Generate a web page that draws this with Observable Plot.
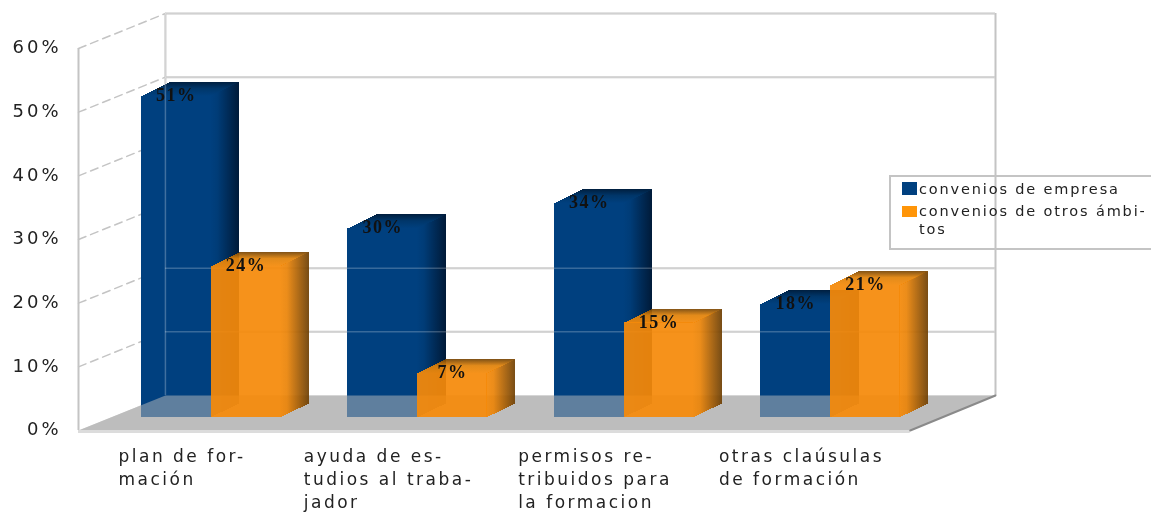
<!DOCTYPE html>
<html lang="es">
<head>
<meta charset="utf-8">
<script src="https://cdn.jsdelivr.net/npm/d3@7"></script>
<script src="https://cdn.jsdelivr.net/npm/@observablehq/plot@0.6"></script>
<style>
html,body{margin:0;padding:0;background:#fff;}
#wrap{position:relative;width:1151px;height:512px;overflow:hidden;filter:blur(.55px);}
#wrap svg{display:block;}
g[aria-label="y-axis tick label"] text{letter-spacing:3px;}
#legend{position:absolute;left:889px;top:175px;width:300px;height:71px;border:2px solid #c4c4c4;box-sizing:content-box;font:14.5px "DejaVu Sans",sans-serif;color:#222;letter-spacing:1.85px;}
#legend i{position:absolute;left:11px;width:15px;}
#legend span{position:absolute;left:28px;white-space:pre;line-height:18px;}
</style>
</head>
<body>
<div id="wrap"><div id="chart"></div><div id="legend"></div></div>
<script>
const categories = ["plan de for-\nmación", "ayuda de es-\ntudios al traba-\njador", "permisos re-\ntribuidos para\nla formacion", "otras claúsulas\nde formación"];
const seriesNames = ["convenios de empresa", "convenios de otros ámbi-\ntos"];
const conveniosEmpresa = [51, 30, 34, 18];
const conveniosOtros = [24, 7, 15, 21];
const yTicks = [0, 10, 20, 30, 40, 50, 60];
const wallGridTicks = [10, 20, 50, 60];

// 3D projection constants (data units)
const step = 0.993, start = 0.303, barW = 0.335, wallDX = 0.41, wallLeft = 0.418, wallDY = 5.5;
const baseY = 2.04, barDX = 0.135, barDY = 2.2, heightK = 0.99, overlap = 0.005;
const pxPerX = 917 / 4.41;
const colors = ["#00407f", "#f58a0a"];

const poly = (rows, pts, id) => pts.forEach(([x, y]) => rows.push({x, y, id}));
function faces(values, s) {
  const fronts = [], sides = [], tops = [], labels = [];
  values.forEach((v, i) => {
    const x1 = start + i * step + s * barW, x2 = x1 + barW;
    const h = baseY + v * heightK;
    fronts.push({x1, x2, y1: baseY, y2: h});
    poly(sides, [[x2 - overlap, baseY], [x2 + barDX, baseY + barDY], [x2 + barDX, h + barDY], [x2 - overlap, h]], i);
    poly(tops, [[x1, h], [x2, h], [x2 + barDX, h + barDY], [x1 + barDX, h + barDY]], i);
    labels.push({x: (x1 + x2) / 2, y: h, t: v + "%"});
  });
  return {fronts, sides, tops, labels};
}
const blue = faces(conveniosEmpresa, 0), orange = faces(conveniosOtros, 1);

const floorEnd = 4;
const floor = [[0, 0], [floorEnd, 0], [floorEnd + wallDX, wallDY], [wallLeft, wallDY]].map(([x, y]) => ({x, y}));
const leftDash = [];
yTicks.filter(d => d > 0).forEach(t => { leftDash.push({x: 0, y: t, id: t}, {x: wallLeft, y: t + wallDY, id: t}); });

// category labels: block centred under each group
const FONT = '17px "DejaVu Sans"', LS = 2.5;
const ctx = document.createElement("canvas").getContext("2d");
ctx.font = FONT;
const blockW = s => d3.max(s.split("\n"), l => ctx.measureText(l).width + l.length * LS);
const catRows = categories.map((t, i) => ({t, x: start + barW + i * step - 0.14 - blockW(t) / 2 / pxPerX}));

const line = "#c4c4c4";
const hlines = o => Plot.ruleY(wallGridTicks, {y: d => d + wallDY, x1: wallLeft, x2: floorEnd + wallDX, ...o});

const barMarks = (f, gSide, gTop, color, op) => [
  Plot.rect(f.fronts, {x1: "x1", x2: "x2", y1: "y1", y2: "y2", fill: color, fillOpacity: op, inset: 0, shapeRendering: "crispEdges"}),
  Plot.line(f.sides, {x: "x", y: "y", z: "id", fill: `url(#${gSide})`, stroke: "none", fillOpacity: op, shapeRendering: "crispEdges"}),
  Plot.line(f.tops, {x: "x", y: "y", z: "id", fill: `url(#${gTop})`, stroke: "none", fillOpacity: op, shapeRendering: "crispEdges"})
];

const svg = Plot.plot({
  width: 1151, height: 512,
  marginLeft: 78, marginRight: 156, marginTop: 13, marginBottom: 82,
  x: {domain: [0, 4.41], axis: null},
  y: {domain: [0, 65.5]},
  style: {background: "white", fontFamily: '"DejaVu Sans",sans-serif', overflow: "hidden"},
  marks: [
    Plot.line(floor, {x: "x", y: "y", fill: "#bdbdbd", stroke: "none"}),
    hlines({stroke: line, strokeWidth: 2}),
    Plot.ruleX([wallLeft, floorEnd + wallDX], {y1: wallDY, y2: 60 + wallDY, stroke: line, strokeWidth: 2}),
    Plot.ruleX([0], {y1: 0, y2: 60, stroke: line, strokeWidth: 2}),
    Plot.line(leftDash, {x: "x", y: "y", z: "id", stroke: line, strokeWidth: 1.5, strokeDasharray: "8 5"}),
    ...barMarks(blue, "sideB", "topB", colors[0], 1),
    hlines({stroke: "#fff", strokeOpacity: .22, strokeWidth: 1.5}),
    Plot.ruleX([wallLeft], {y1: wallDY, y2: 60 + wallDY, stroke: "#fff", strokeOpacity: .25, strokeWidth: 1.5}),
    Plot.line(floor, {x: "x", y: "y", fill: "#bdbdbd", fillOpacity: .5, stroke: "none"}),
    Plot.ruleY([0], {x1: 0, x2: floorEnd, stroke: "#dcdcdc", strokeWidth: 3, dy: 1}),
    Plot.line([{x: floorEnd, y: 0}, {x: floorEnd + wallDX, y: wallDY}], {x: "x", y: "y", stroke: "#8a8a8a", strokeWidth: 2}),
    ...barMarks(orange, "sideO", "topO", colors[1], .93),
    Plot.axisY(yTicks, {anchor: "left", tickSize: 0, tickPadding: 17, tickFormat: d => d + "%", label: null, fontSize: 18, fill: "#222", dy: -1}),
    Plot.text([...blue.labels, ...orange.labels], {x: "x", y: "y", text: "t", dy: -1, fontFamily: '"Liberation Serif",serif', fontWeight: "bold", fontSize: 18, fill: "#111"}),
    Plot.text(catRows, {x: "x", y: 0, text: "t", textAnchor: "start", lineAnchor: "top", lineHeight: 1.36, dy: 15, fontSize: 17, fill: "#222"})
  ]
});

const groups = svg.querySelectorAll(":scope > g");
groups[groups.length - 1].style.letterSpacing = LS + "px";
groups[groups.length - 2].style.letterSpacing = "1.5px";

const defs = d3.select(svg).insert("defs", ":first-child");
function grad(id, horizontal, stops) {
  const g = defs.append("linearGradient").attr("id", id)
    .attr("x1", 0).attr("y1", 0).attr("x2", horizontal ? 1 : 0).attr("y2", horizontal ? 0 : 1);
  stops.forEach(([o, c]) => g.append("stop").attr("offset", o).attr("stop-color", c));
}
grad("sideB", true, [[0, "#00407f"], [.25, "#003c77"], [1, "#001a38"]]);
grad("topB", false, [[0, "#001f40"], [.45, "#003669"], [1, "#00407f"]]);
grad("sideO", true, [[0, "#f58a0a"], [.25, "#ea8409"], [1, "#6d3f04"]]);
grad("topO", false, [[0, "#7a4705"], [.45, "#e08209"], [1, "#f58a0a"]]);
document.getElementById("chart").append(svg);

const lg = d3.select("#legend");
[[5, 13, colors[0]], [29, 11, "#ff9508"]].forEach(([t, h, c]) => lg.append("i").style("top", t + "px").style("height", h + "px").style("background", c));
[[3, seriesNames[0]], [25, seriesNames[1]]].forEach(([t, s]) => lg.append("span").style("top", t + "px").text(s));
</script>
</body>
</html>
